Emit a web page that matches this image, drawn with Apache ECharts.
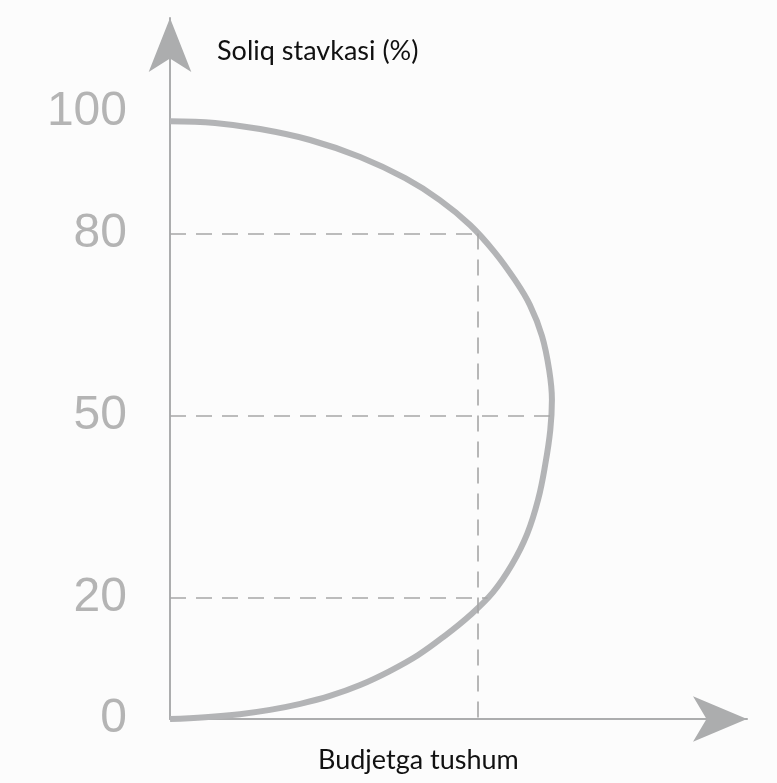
<!DOCTYPE html>
<html>
<head>
<meta charset="utf-8">
<script src="https://cdn.jsdelivr.net/npm/echarts@6/dist/echarts.min.js"></script>
<style>
    html, body { margin: 0; padding: 0; background: #fcfcfc; }
    #chart { width: 777px; height: 783px; }
</style>
</head>
<body>
<div id="chart"></div>
<script>
    // soliq stavkasi (%) va budjetga tushum (shartli birlik), yuqoridan pastga
    const rates   = [98.5, 98.2, 97.2, 95.4, 92.6, 89.1, 85.5, 81.4, 76.9, 72.3, 68.2, 63.1, 57.5, 52.6,
                     47.6, 42.0, 36.2, 30.5, 25.4, 20.9, 17.1, 13.7, 10.5, 7.9, 5.6, 3.8, 2.5, 1.5, 0.8, 0.3, 0];
    const revenue = [0, 8.2, 16.4, 25.5, 34.6, 42.8, 49.1, 54.6, 59.1, 62.8, 65.5, 67.7, 69.0, 69.5,
                     69.2, 68.3, 67.0, 65.0, 62.2, 58.8, 54.6, 50.0, 45.1, 40.0, 34.6, 29.1, 23.7, 18.2, 12.7, 6.4, 0];
    const tickLabels = [0, 20, 50, 80, 100];
    const guideRates = [80, 50, 20];
    const guideRevenue = [56, 69.4, 57.8];

    const gray = '#acadae';
    const curveData = rates.map((r, i) => [revenue[i], r]);

    let guides = guideRates.map((r, i) => [
        { coord: [0, r] },
        { coord: [guideRevenue[i], r] }
    ]);
    // 80% dagi tushum -> pastga vertikal chiziq
    guides.push([
        { coord: [guideRevenue[0], guideRates[0]] },
        { coord: [guideRevenue[0], 0] }
    ]);

    const chart = echarts.init(document.getElementById('chart'));
    chart.setOption({
        backgroundColor: '#fcfcfc',
        animation: false,
        title: [
            {
                text: 'Soliq stavkasi (%)',
                left: 212,
                top: 33,
                textStyle: { fontFamily: 'Lato', fontSize: 27, fontWeight: 'normal', color: '#111' }
            },
            {
                text: 'Budjetga tushum',
                left: 313,
                top: 742,
                textStyle: { fontFamily: 'Lato', fontSize: 27, fontWeight: 'normal', color: '#111' }
            }
        ],
        grid: { left: 170, right: 30, top: 18, bottom: 64 },
        xAxis: {
            type: 'value',
            min: 0,
            max: 105,
            splitLine: { show: false },
            axisTick: { show: false },
            axisLabel: { show: false },
            axisLine: {
                show: true,
                onZero: false,
                symbol: ['none', 'arrow'],
                symbolSize: [34, 54],
                lineStyle: { color: gray, width: 2 }
            }
        },
        yAxis: {
            type: 'value',
            min: 0,
            max: 115.5,
            splitLine: { show: false },
            axisTick: { show: false },
            axisLabel: {
                customValues: tickLabels,
                margin: 43,
                fontFamily: 'Liberation Sans',
                fontSize: 48,
                color: '#b4b4b4'
            },
            axisLine: {
                show: true,
                onZero: false,
                symbol: ['none', 'arrow'],
                symbolSize: [32, 54],
                lineStyle: { color: gray, width: 2 }
            }
        },
        series: [
            {
                type: 'line',
                data: curveData,
                smooth: 0.4,
                showSymbol: false,
                lineStyle: { color: '#b3b4b6', width: 6 },
                markLine: {
                    silent: true,
                    symbol: 'none',
                    label: { show: false },
                    lineStyle: { color: '#a6a6a6', width: 1.6, type: [16, 10] },
                    data: guides
                }
            }
        ]
    });
</script>
</body>
</html>
